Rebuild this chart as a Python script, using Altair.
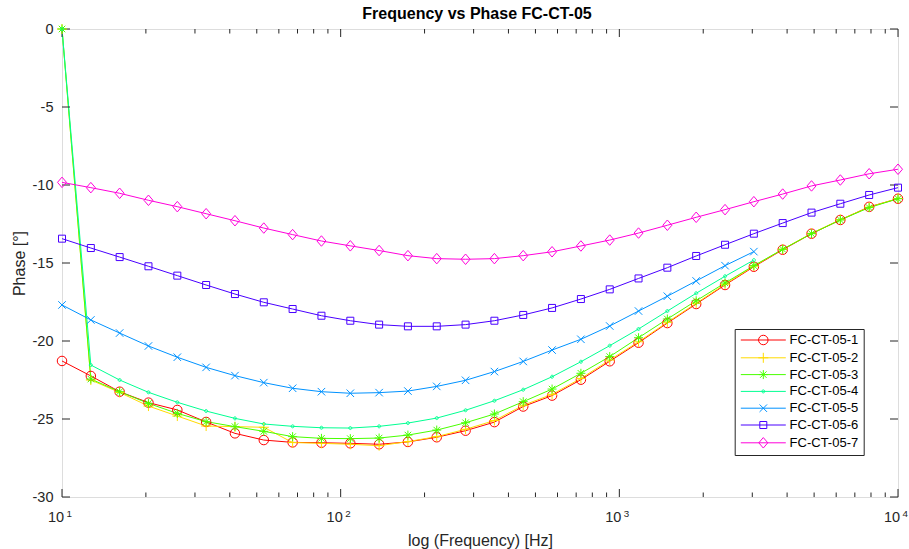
import altair as alt
import pandas as pd

# ---------------- data ----------------
freqs = [10.0, 12.69, 16.10, 20.43, 25.93, 32.90, 41.75, 52.98, 67.23, 85.32,
         108.3, 137.4, 174.3, 221.2, 280.7, 356.2, 452.0, 573.6, 727.9, 923.7,
         1172.0, 1487.0, 1887.0, 2395.0, 3039.0, 3857.0, 4894.0, 6210.0, 7880.0, 10000.0]

series_names = ["FC-CT-05-1", "FC-CT-05-2", "FC-CT-05-3", "FC-CT-05-4",
                "FC-CT-05-5", "FC-CT-05-6", "FC-CT-05-7"]

phase_1 = [-21.28, -22.24, -23.25, -23.95, -24.42, -25.19, -25.92, -26.35, -26.50, -26.52,
           -26.56, -26.62, -26.47, -26.17, -25.75, -25.20, -24.20, -23.50, -22.48, -21.30,
           -20.11, -18.85, -17.63, -16.41, -15.24, -14.15, -13.12, -12.24, -11.40, -10.88]
phase_2 = [0.0, -22.50, -23.30, -24.17, -24.81, -25.45, -25.49, -25.53, -26.51, -26.56,
           -26.62, -26.71, -26.45, -26.13, -25.66, -25.10, -24.12, -23.42, -22.40, -21.22,
           -20.05, -18.80, -17.58, -16.36, -15.20, -14.12, -13.10, -12.22, -11.42, -10.86]
phase_3 = [0.0, -22.44, -23.25, -24.00, -24.64, -25.17, -25.49, -25.79, -26.13, -26.24,
           -26.26, -26.22, -26.03, -25.71, -25.24, -24.68, -23.89, -23.08, -22.07, -21.00,
           -19.79, -18.59, -17.42, -16.28, -15.17, -14.12, -13.12, -12.24, -11.45, -10.88]
phase_4 = [0.0, -21.54, -22.50, -23.29, -23.93, -24.49, -24.96, -25.32, -25.47, -25.56,
           -25.58, -25.47, -25.26, -24.94, -24.44, -23.83, -23.12, -22.29, -21.33, -20.30,
           -19.23, -18.08, -16.94, -15.85, -14.81]
phase_5 = [-17.69, -18.65, -19.49, -20.32, -21.04, -21.69, -22.22, -22.67, -23.03, -23.25,
           -23.35, -23.31, -23.21, -22.91, -22.52, -21.96, -21.31, -20.58, -19.89, -19.04,
           -18.08, -17.13, -16.15, -15.17, -14.27]
phase_6 = [-13.44, -14.04, -14.62, -15.21, -15.81, -16.41, -16.99, -17.52, -17.95, -18.38,
           -18.70, -18.95, -19.06, -19.06, -18.95, -18.70, -18.33, -17.88, -17.31, -16.69,
           -15.99, -15.30, -14.55, -13.83, -13.12, -12.44, -11.77, -11.20, -10.64, -10.17]
phase_7 = [-9.83, -10.17, -10.53, -10.98, -11.39, -11.84, -12.29, -12.76, -13.18, -13.59,
           -13.90, -14.20, -14.53, -14.72, -14.76, -14.72, -14.53, -14.28, -13.91, -13.53,
           -13.08, -12.58, -12.07, -11.58, -11.07, -10.58, -10.06, -9.68, -9.28, -8.99]

all_phases = [phase_1, phase_2, phase_3, phase_4, phase_5, phase_6, phase_7]

x_major = [10, 100, 1000, 10000]
x_major_base = "10"
x_exponents = ["1", "2", "3", "4"]
x_minor = [20, 30, 40, 50, 60, 70, 80, 90,
           200, 300, 400, 500, 600, 700, 800, 900,
           2000, 3000, 4000, 5000, 6000, 7000, 8000, 9000]
y_ticks = [-30, -25, -20, -15, -10, -5, 0]

# ---------------- styles ----------------
colors = ["#FF0000", "#FFDB00", "#49FF00", "#00FF92", "#0092FF", "#4900FF", "#FF00DB"]
marker_paths = [
    "M0.95,0A0.95,0.95 0 1,1 -0.95,0A0.95,0.95 0 1,1 0.95,0Z",              # circle
    "M-1,0L1,0M0,-1L0,1",                                                   # plus
    "M-0.9,0L0.9,0M0,-0.9L0,0.9M-0.65,-0.65L0.65,0.65M-0.65,0.65L0.65,-0.65",  # asterisk
    "M0.3,0A0.3,0.3 0 1,1 -0.3,0A0.3,0.3 0 1,1 0.3,0Z",                      # dot
    "M-0.75,-0.75L0.75,0.75M-0.75,0.75L0.75,-0.75",                          # x
    "M-0.7,-0.7L0.7,-0.7L0.7,0.7L-0.7,0.7Z",                                 # square
    "M0,-1.05L0.9,0L0,1.05L-0.9,0Z",                                         # diamond
]
legend_paths = ["M-4.5,0L4.5,0" + p for p in marker_paths]

FONT = "Liberation Sans"
TXT = "#262626"
AX = "#262626"
W, H = 836, 468

rows = []
for k, (name, vals) in enumerate(zip(series_names, all_phases)):
    for f, v in zip(freqs, vals):
        rows.append({"series": name, "freq": f, "phase": v, "k": k})
df = pd.DataFrame(rows)

xs = alt.Scale(type="log", domain=[10, 10000], nice=False)
ys = alt.Scale(domain=[-30, 0], nice=False, zero=False)

x_axis = alt.Axis(values=x_major, labelExpr=f"'{x_major_base}'", ticks=False, domain=False,
                  grid=False, labelFont=FONT, labelFontSize=14.5, labelColor=TXT,
                  labelPadding=13, labelOffset=-6.5, labelFlush=False, labelOverlap=False,
                  title="log (Frequency) [Hz]", titleFont=FONT, titleFontSize=16,
                  titleFontWeight="normal", titleColor=TXT, titleBaseline="alphabetic",
                  titleY=48)
y_axis = alt.Axis(values=y_ticks, labelExpr="datum.value + ''", ticks=False, domain=False,
                  grid=False, labelFont=FONT, labelFontSize=14.5, labelColor=TXT,
                  labelPadding=9, title="Phase [\u00b0]", titleFont=FONT, titleFontSize=16,
                  titleFontWeight="normal", titleColor=TXT, titleAngle=270,
                  titleBaseline="alphabetic", titleAlign="center", titleX=-37.5, titleY=H / 2)

legend = alt.Legend(title=None, orient="none", legendX=672.7, legendY=300,
                    padding=4.5, rowPadding=2.8, symbolOffset=17.6, labelOffset=19.8,
                    labelFont=FONT, labelFontSize=13, labelColor="#000000",
                    strokeColor=AX, fillColor="white", symbolSize=100,
                    symbolStrokeWidth=1, symbolFillColor="transparent", symbolOpacity=1)

def color_enc(leg):
    return alt.Color("series:N", scale=alt.Scale(domain=series_names, range=colors), legend=leg)

X = alt.X("freq:Q", scale=xs, axis=x_axis)
Y = alt.Y("phase:Q", scale=ys, axis=y_axis)

base = alt.Chart(df)

lines = base.mark_line(strokeWidth=1, clip=True).encode(
    x=X, y=Y,
    color=color_enc(None),
    detail="series:N",
    order=alt.Order("freq:Q"),
)

points = base.mark_point(filled=False, size=100, strokeWidth=1, opacity=1).encode(
    x=X, y=Y,
    color=color_enc(None),
    shape=alt.Shape("series:N", scale=alt.Scale(domain=series_names, range=marker_paths),
                    legend=None),
    order=alt.Order("k:Q"),
)

# legend-only layer (no visible marks): line-plus-marker symbols
legend_layer = base.transform_filter("datum.k < 0").mark_point(
    filled=False, size=100, strokeWidth=1, opacity=1).encode(
    x=X, y=Y,
    color=color_enc(legend),
    shape=alt.Shape("series:N", scale=alt.Scale(domain=series_names, range=legend_paths),
                    legend=legend),
)

maj_df = pd.DataFrame({"v": x_major, "e": x_exponents})
min_df = pd.DataFrame({"v": x_minor})
yt_df = pd.DataFrame({"v": y_ticks})

def xtick(data, y0, y1):
    return alt.Chart(data).mark_rule(color=AX, strokeWidth=1).encode(
        x=alt.X("v:Q", scale=xs, axis=x_axis), y=alt.value(y0), y2=alt.value(y1))

def ytick(x0, x1):
    return alt.Chart(yt_df).mark_rule(color=AX, strokeWidth=1).encode(
        y=alt.Y("v:Q", scale=ys, axis=y_axis), x=alt.value(x0), x2=alt.value(x1))

ticks = [
    xtick(maj_df, H, H - 8), xtick(maj_df, 0, 8),
    xtick(min_df, H, H - 4.5), xtick(min_df, 0, 4.5),
    ytick(0, 8), ytick(W, W - 8),
]

# superscript exponents of the decade labels
exps = alt.Chart(maj_df).mark_text(align="left", baseline="alphabetic", font=FONT,
                                   fontSize=9.8, color=TXT, dx=4.5).encode(
    x=alt.X("v:Q", scale=xs, axis=x_axis), y=alt.value(H + 19.8), text="e:N")

chart = alt.layer(lines, *ticks, points, legend_layer, exps).resolve_scale(
    color="independent", shape="independent"
).properties(
    width=W, height=H,
    title=alt.TitleParams("Frequency vs Phase FC-CT-05", font=FONT, fontSize=16,
                          fontWeight="bold", color="#000000", anchor="middle",
                          baseline="alphabetic", offset=7, dx=-3, dy=21),
    padding={"left": 62, "top": 29, "right": 11, "bottom": 52},
    autosize=alt.AutoSizeParams(type="none"),
).configure_view(stroke=AX, strokeWidth=1).configure(background="white")

chart.save("out.html", embed_options={"renderer": "svg", "actions": False})
